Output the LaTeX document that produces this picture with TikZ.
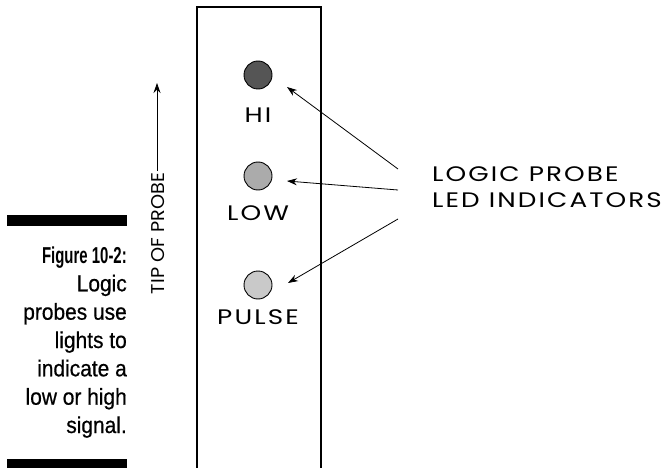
\documentclass[tikz,border=0pt]{standalone}
\usepackage{fontspec}
\setmainfont{Liberation Sans}
\newfontfamily\capbold[FakeStretch=0.65]{Liberation Sans Bold}
\newfontfamily\capreg[FakeStretch=0.91,FakeBold=0.6]{Liberation Sans}
\newfontfamily\handfont[FakeStretch=1.25,LetterSpace=10]{Poppins}
\newfontfamily\tipfont[FakeStretch=1.04]{Poppins}
\usetikzlibrary{arrows.meta}
\definecolor{ledhi}{HTML}{555555}
\definecolor{ledlow}{HTML}{ABABAB}
\definecolor{ledpulse}{HTML}{C9C9C9}
\tikzset{
  capline/.style={anchor=base east, inner sep=0pt, font=\capreg\fontsize{23}{26}\selectfont},
  capbold/.style={anchor=base east, inner sep=0pt, font=\capbold\fontsize{23}{26}\selectfont},
  hand/.style={inner sep=0pt, font=\handfont\fontsize{21}{24}\selectfont},
  tiptext/.style={inner sep=0pt, font=\tipfont\fontsize{18.5}{22}\selectfont},
  led/.style={circle, draw=black, line width=0.9pt, minimum size=28pt, inner sep=0pt},
  pointer/.style={line width=0.8pt, -{Stealth[length=10pt,width=7pt]}}
}
\begin{document}
\begin{tikzpicture}[x=1pt,y=-1pt]
\useasboundingbox (0,0) rectangle (664,468);
% caption bars
\fill[black] (7,215) rectangle (127,226);
\fill[black] (7,459) rectangle (127,468);
% caption text
\node[capbold] (c0) at (127,263) {Figure 10-2:};
\node[capline] (c1) at (127,291.3) {Logic};
\node[capline] (c2) at (127,319.7) {probes use};
\node[capline] (c3) at (127,348) {lights to};
\node[capline] (c4) at (127,376.3) {indicate a};
\node[capline] (c5) at (127,404.7) {low or high};
\node[capline] (c6) at (127,433) {signal.};
% probe body
\draw[line width=1.1pt] (197,475) -- (197,7) -- (321,7) -- (321,475);
% tip of probe
\node[tiptext, rotate=90] (tip) at (158,233.5) {TIP OF PROBE};
\coordinate (tipbase) at (157,171);
\coordinate (tiptop) at (157,83);
\draw[pointer] (tipbase) -- (tiptop);
% LEDs
\node[led, fill=ledhi] (hi) at (258,75) {};
\node[led, fill=ledlow] (low) at (258,176) {};
\node[led, fill=ledpulse] (pulse) at (258,285) {};
\node[hand] (hil) at (258,115) {HI};
\node[hand] (lowl) at (258,213) {LOW};
\node[hand] (pulsel) at (258,317) {PULSE};
% label
\node[hand, anchor=base west] (lp1) at (432,182) {LOGIC PROBE};
\node[hand, anchor=base west] (lp2) at (432,207) {LED INDICATORS};
% pointers
\coordinate (s1) at (398,169);
\coordinate (s2) at (398,190);
\coordinate (s3) at (398,219);
\coordinate (t1) at (287,87);
\coordinate (t2) at (287,181);
\coordinate (t3) at (288,283);
\draw[pointer] (s1) -- (t1);
\draw[pointer] (s2) -- (t2);
\draw[pointer] (s3) -- (t3);
\end{tikzpicture}
\end{document}
